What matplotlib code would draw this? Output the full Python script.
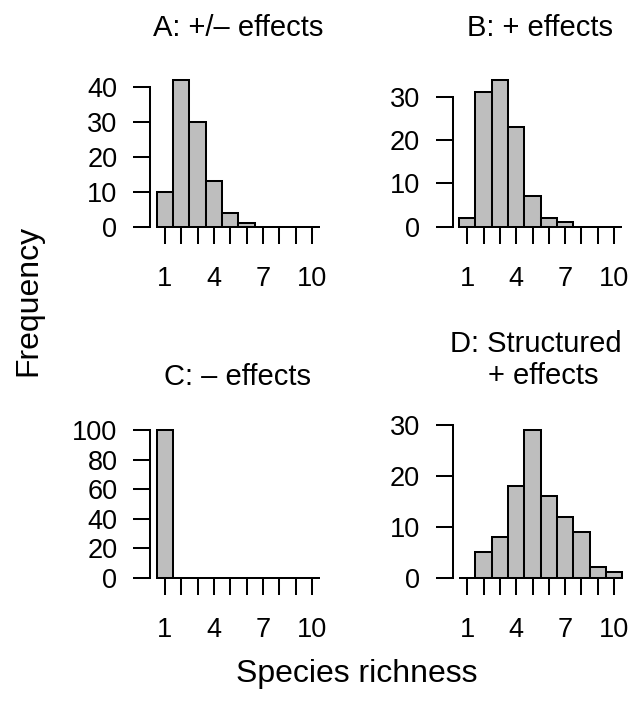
import matplotlib
matplotlib.use("Agg")
import matplotlib.pyplot as plt

plt.rcParams['font.family'] = ['Liberation Sans', 'DejaVu Sans']

# ---- data ----
richness = [1, 2, 3, 4, 5, 6, 7, 8, 9, 10]
x_tick_labels = ["1", "", "", "4", "", "", "7", "", "", "10"]

counts_A = [10, 42, 30, 13, 4, 1, 0, 0, 0, 0]
counts_B = [2, 31, 34, 23, 7, 2, 1, 0, 0, 0]
counts_C = [100, 0, 0, 0, 0, 0, 0, 0, 0, 0]
counts_D = [0, 5, 8, 18, 29, 16, 12, 9, 2, 1]

yticks_A = [0, 10, 20, 30, 40]
yticks_B = [0, 10, 20, 30]
yticks_C = [0, 20, 40, 60, 80, 100]
yticks_D = [0, 10, 20, 30]

title_A = ["A: +/\u2013 effects"]
title_B = ["B: + effects"]
title_C = ["C: \u2013 effects"]
title_D = ["D: Structured", "+ effects"]

xlabel = "Species richness"
ylabel = "Frequency"

# ---- layout (pixels) ----
W, H = 637, 708
fig = plt.figure(figsize=(W / 100, H / 100), dpi=100)

def fx(px):
    return px / W

def fy(py):
    return 1 - py / H

row_off = 350.8
col_left = [150.3, 452.6]
col_right = [326.5, 628.8]
zero_px0, max_px0, bot_px0, top_px0 = 226.7, 79.5, 228.2, 73.6

panels = [
    (counts_A, yticks_A, title_A, 0, 0, [(238, 36)]),
    (counts_B, yticks_B, title_B, 0, 1, [(540, 36)]),
    (counts_C, yticks_C, title_C, 1, 0, [(237.7, 385)]),
    (counts_D, yticks_D, title_D, 1, 1, [(536, 352.3), (543, 383.8)]),
]

tick_fs = 19.5
title_fs = 21
label_fs = 23
lw = 1.45

for counts, yt, title, r, c, tpos in panels:
    off = r * row_off
    zero_px, max_px = zero_px0 + off, max_px0 + off
    bot_px, top_px = bot_px0 + off, top_px0 + off
    L, R = col_left[c], col_right[c]
    ax = fig.add_axes([fx(L), fy(bot_px), fx(R) - fx(L), fy(top_px) - fy(bot_px)])
    ymax = max(counts)
    span = zero_px - max_px
    ylo = -(bot_px - zero_px) / span * ymax
    yhi = ymax + (max_px - top_px) / span * ymax
    ax.bar(richness, counts, width=1.0, color="#BEBEBE", edgecolor="black",
           linewidth=lw, zorder=3)
    ax.set_xlim(0.1, 10.9)
    ax.set_ylim(ylo, yhi)
    for s in ["top", "right", "bottom"]:
        ax.spines[s].set_visible(False)
    ax.spines["left"].set_bounds(yt[0], yt[-1])
    ax.spines["left"].set_linewidth(lw)
    ax.set_yticks(yt)
    ax.set_yticklabels([str(v) for v in yt])
    ax.set_xticks(richness)
    ax.set_xticklabels(x_tick_labels)
    ax.tick_params(axis="y", direction="out", length=12.2, width=lw, pad=11.5,
                   labelsize=tick_fs)
    ax.tick_params(axis="x", direction="out", length=11.5, width=lw, pad=16,
                   labelsize=tick_fs)
    ax.patch.set_visible(False)
    for line, (tx, ty) in zip(title, tpos):
        fig.text(fx(tx), fy(ty), line, ha="center", va="baseline", fontsize=title_fs)

fig.text(fx(357), fy(682), xlabel, ha="center", va="baseline", fontsize=label_fs)
fig.text(fx(28), fy(300), ylabel, ha="center", va="center", rotation=90,
         fontsize=label_fs)

fig.savefig("out.png", dpi=100, facecolor="white")
